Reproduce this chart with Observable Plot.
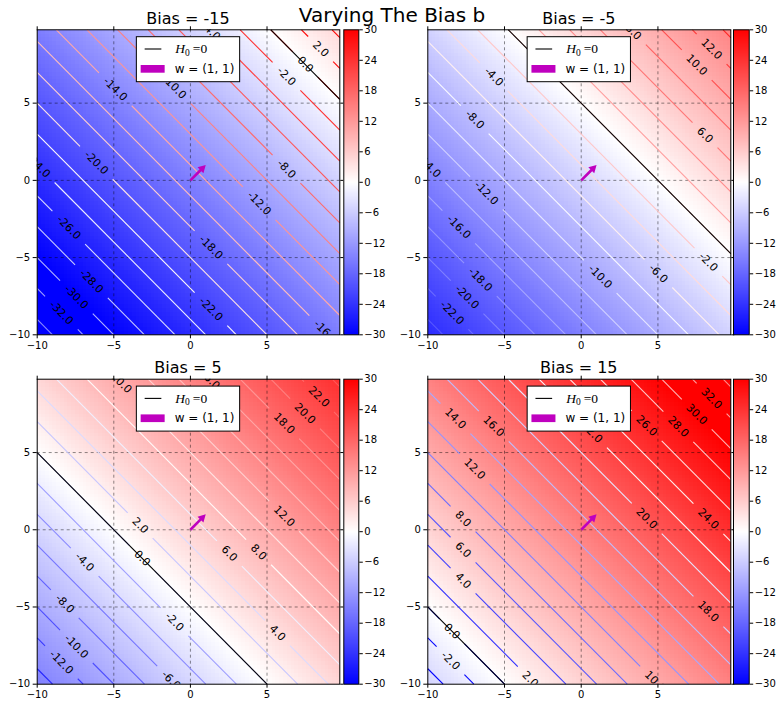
<!DOCTYPE html>
<html><head><meta charset="utf-8">
<script src="https://cdn.jsdelivr.net/npm/d3@7"></script>
<script src="https://cdn.jsdelivr.net/npm/@observablehq/plot@0.6"></script>
<style>
html,body{margin:0;padding:0;background:#fff;}
#root{position:relative;width:784px;height:709px;overflow:hidden;font-family:"DejaVu Sans",sans-serif;}
#root > svg{position:absolute;}
</style></head><body><div id="root"></div>
<script>
// ---------- data ----------
const suptitle = "Varying The Bias b";
const biases = [-15, -5, 5, 15];
const weight = [1, 1];
const gridMin = -10, gridMax = 9.75;      // np.arange(-10, 10, 0.25)
const gridCount = 80;
const axisTicks = [-10, -5, 0, 5];
const gridTicks = [-5, 0, 5];
const colorLimits = [-30, 30];
const colorbarTicks = [-30, -24, -18, -12, -6, 0, 6, 12, 18, 24, 30];
const contourStep = 2;
const legendLineLabel = "H";   // H_0 = 0
// contour label placements (level, x position along the line)
const labelLevelsA = [2, 0, -2, -8, -12, -16, -18, -22, -14, -10, -20, -24, -26, -28, -30, -32, -4];
const labelXA      = [8.5, 7.5, 6.27, 6.27, 4.49, 8.83, 1.34, 1.34, -4.9, -1.04, -6.14, -9.93, -7.94, -6.46, -7.44, -8.42, 1.34];
const labelLevelsB = [12, 10, 6, -2, -6, -10, -4, -8, -14, -12, -16, -18, -20, -22, 8];
const labelXB      = [8.5, 7.53, 8.07, 8.29, 5.03, 1.24, -5.7, -6.94, -9.93, -6.18, -7.98, -6.57, -7.44, -8.42, 3.4];
const labelLevelsC = [22, 20, 18, 12, 8, 6, 4, 2, 0, -2, -4, -8, -10, -12, -6, 10, 16];
const labelXC      = [8.39, 7.48, 6.12, 6.12, 4.45, 2.54, 5.68, -3.28, -3.15, -1.04, -6.9, -8.2, -7.44, -8.42, -1.26, -4.51, 1.24];
const labelLevelsD = [32, 30, 28, 26, 24, 20, 18, 14, 16, 12, 8, 6, 4, 0, -2, 2, 10, 22];
const labelXD      = [8.5, 7.53, 6.33, 4.27, 8.29, 4.27, 8.29, -8.2, -5.7, -6.94, -7.7, -7.7, -7.7, -8.42, -8.52, -3.32, 4.82, 0.7];
const labelLevels = [labelLevelsA, labelLevelsB, labelLevelsC, labelLevelsD];
const labelXs = [labelXA, labelXB, labelXC, labelXD];

// ---------- layout ----------
const layout = [
  {L: 36.7,  R: 339.3, T: 29.3,  B: 334.3, cbL: 343.3, cbR: 358.3},
  {L: 427.3, R: 730.3, T: 29.3,  B: 334.3, cbL: 733.0, cbR: 748.7},
  {L: 36.7,  R: 339.3, T: 378.7, B: 683.7, cbL: 343.3, cbR: 358.3},
  {L: 427.3, R: 730.3, T: 378.7, B: 683.7, cbL: 733.0, cbR: 748.7}
];
const magenta = "#bf00bf";
const fmt = d3.format("d");
const clamp01 = t => Math.max(0, Math.min(1, t));
function bwr(t) {
  t = clamp01(t);
  let r, g, b;
  if (t < 0.5) { r = g = 2 * t; b = 1; } else { r = 1; g = b = 2 * (1 - t); }
  return `rgb(${Math.round(r*255)},${Math.round(g*255)},${Math.round(b*255)})`;
}
function lineColor(level, b) {
  return bwr(0.5 + (level - 1.5 * b) / 50);
}
function labelWidth(str, fs) {
  let w = 0;
  for (const c of str) w += c === "." ? 0.318 : c === "-" ? 0.361 : 0.636;
  return w * fs;
}
const labelFont = 11;
const root = document.getElementById("root");

biases.forEach((b, i) => {
  const g = layout[i];
  const kx = (g.R - g.L) / (gridMax - gridMin), ky = (g.B - g.T) / (gridMax - gridMin);
  const diag = Math.hypot(kx, ky);
  const f = (x, y) => weight[0] * x + weight[1] * y + b;
  const labels = labelLevels[i].map((lv, j) => ({level: lv, x: labelXs[i][j], y: (lv - b - weight[0]*labelXs[i][j]) / weight[1], text: lv.toFixed(1)}));
  // contour levels
  const lo = 2 * gridMin + b, hi = 2 * gridMax + b;
  const levels = d3.range(Math.ceil(lo / contourStep) * contourStep, hi, contourStep).filter(l => l > lo && l < hi);
  const lineMarks = levels.map(lv => {
    const s = lv - b;
    const xa = Math.max(gridMin, s - gridMax), xb = Math.min(gridMax, s - gridMin);
    let intervals = [[xa, xb]];
    labels.filter(d => d.level === lv).forEach(d => {
      const hg = (labelWidth(d.text, labelFont) + 18) / 2 / diag;
      const next = [];
      intervals.forEach(([a, c]) => {
        if (d.x + hg <= a || d.x - hg >= c) { next.push([a, c]); return; }
        if (d.x - hg > a) next.push([a, d.x - hg]);
        if (d.x + hg < c) next.push([d.x + hg, c]);
      });
      intervals = next;
    });
    const segs = intervals.map(([a, c]) => ({x1: a, y1: s - a, x2: c, y2: s - c}));
    return Plot.link(segs, {x1: "x1", y1: "y1", x2: "x2", y2: "y2", stroke: lineColor(lv, b), strokeWidth: 1.1});
  });
  const s0 = -b;
  const zeroLine = [{x1: Math.max(gridMin, s0 - gridMax), x2: Math.min(gridMax, s0 - gridMin)}];
  // arrow geometry in pixels for w
  const arrowLen = Math.hypot(weight[0] * kx, weight[1] * ky);
  const arrowRot = Math.atan2(weight[0] * kx, weight[1] * ky) * 180 / Math.PI;
  const arrowShape = {
    draw(context, l) {
      const hl = 7.5, hw = 4.2, sw = 1.3;
      context.moveTo(-sw, 0);
      context.lineTo(-sw, -(l - hl));
      context.lineTo(-hw, -(l - hl));
      context.lineTo(0, -l);
      context.lineTo(hw, -(l - hl));
      context.lineTo(sw, -(l - hl));
      context.lineTo(sw, 0);
      context.closePath();
    }
  };
  const sl = Math.floor(g.L) - 36, st = Math.floor(g.T) - 29;
  const width = Math.ceil(g.R) + 6 - sl, height = Math.ceil(g.B) + 24 - st;
  const chart = Plot.plot({
    width, height,
    marginLeft: g.L - sl, marginRight: width - (g.R - sl),
    marginTop: g.T - st, marginBottom: height - (g.B - st),
    x: {domain: [gridMin, gridMax]},
    y: {domain: [gridMin, gridMax]},
    color: {type: "linear", domain: colorLimits, interpolate: bwr},
    style: {fontFamily: "DejaVu Sans", fontSize: "10px", background: "transparent", overflow: "visible", color: "black"},
    marks: [
      Plot.raster({x1: gridMin, x2: gridMax, y1: gridMin, y2: gridMax, width: gridCount, height: gridCount,
                   fill: (x, y) => f(x, y), imageRendering: "pixelated"}),
      Plot.ruleX(gridTicks, {stroke: "black", strokeOpacity: 0.45, strokeDasharray: "3,3"}),
      Plot.ruleY(gridTicks, {stroke: "black", strokeOpacity: 0.45, strokeDasharray: "3,3"}),
      ...lineMarks,
      Plot.link(zeroLine, {x1: "x1", y1: d => s0 - d.x1, x2: "x2", y2: d => s0 - d.x2, stroke: "black", strokeWidth: 1.1}),
      Plot.text(labels, {x: "x", y: "y", text: "text", rotate: 45, fontSize: labelFont, fill: "black", clip: true}),
      Plot.vector([weight], {x: () => 0, y: () => 0, anchor: "start", length: arrowLen, rotate: arrowRot,
                             shape: arrowShape, fill: magenta, stroke: "none"}),
      Plot.frame({stroke: "black"}),
      Plot.axisX({ticks: axisTicks, tickSize: 4, tickPadding: 3, tickFormat: fmt, label: null}),
      Plot.axisX({anchor: "top", ticks: axisTicks, tickSize: 4, tickFormat: () => "", label: null}),
      Plot.axisY({anchor: "left", ticks: axisTicks, tickSize: 4, tickPadding: 3, tickFormat: fmt, label: null}),
      Plot.axisY({anchor: "right", ticks: axisTicks, tickSize: 3, tickFormat: () => "", label: null})
    ]
  });
  chart.style.left = sl + "px"; chart.style.top = st + "px";
  root.appendChild(chart);

  // colorbar
  const cl = Math.floor(g.cbL) - 2, ct = Math.floor(g.T) - 6;
  const cw = Math.ceil(g.cbR) + 32 - cl, ch = Math.ceil(g.B) + 6 - ct;
  const cb = Plot.plot({
    width: cw, height: ch,
    marginLeft: g.cbL - cl, marginRight: cw - (g.cbR - cl),
    marginTop: g.T - ct, marginBottom: ch - (g.B - ct),
    x: {domain: [0, 1], axis: null},
    y: {domain: colorLimits},
    color: {type: "linear", domain: colorLimits, interpolate: bwr},
    style: {fontFamily: "DejaVu Sans", fontSize: "10px", background: "transparent", overflow: "visible", color: "black"},
    marks: [
      Plot.raster({x1: 0, x2: 1, y1: colorLimits[0], y2: colorLimits[1], width: 1, height: 300, fill: (x, y) => y}),
      Plot.frame({stroke: "black"}),
      Plot.axisY({anchor: "right", ticks: colorbarTicks, tickSize: 3.5, tickPadding: 2, tickFormat: fmt, label: null})
    ]
  });
  cb.style.left = cl + "px"; cb.style.top = ct + "px";
  root.appendChild(cb);
});

// ---------- titles and legends ----------
const svg = d3.create("svg").attr("width", 784).attr("height", 709)
  .style("left", "0px").style("top", "0px").style("pointer-events", "none")
  .attr("font-family", "DejaVu Sans");
svg.append("text").attr("x", 392).attr("y", 21.5).attr("text-anchor", "middle")
  .attr("font-size", 20).text(suptitle);
biases.forEach((b, i) => {
  const g = layout[i];
  const cx = (g.L + g.R) / 2;
  svg.append("text").attr("x", cx).attr("y", g.T - 5.3).attr("text-anchor", "middle")
    .attr("font-size", 16).text(`Bias = ${b}`);
  const bx = cx - 51.65, by = g.T + 7.4;
  const lg = svg.append("g");
  lg.append("rect").attr("x", bx).attr("y", by).attr("width", 103.3).attr("height", 45)
    .attr("fill", "white").attr("stroke", "black").attr("stroke-width", 1);
  lg.append("line").attr("x1", bx + 8.3).attr("x2", bx + 25).attr("y1", by + 12.3).attr("y2", by + 12.3)
    .attr("stroke", "black").attr("stroke-width", 1.1);
  const t = lg.append("text").attr("x", bx + 39).attr("y", by + 16.5)
    .attr("font-family", "Liberation Serif").attr("font-size", 13.5);
  t.append("tspan").attr("font-style", "italic").text(legendLineLabel);
  t.append("tspan").attr("font-size", 9.5).attr("dy", 2.5).text("0");
  t.append("tspan").attr("dy", -2.5).attr("dx", 3).text("=0");
  lg.append("rect").attr("x", bx + 4.3).attr("y", by + 28.3).attr("width", 24).attr("height", 7.7).attr("fill", magenta);
  lg.append("text").attr("x", bx + 38.3).attr("y", by + 36).attr("font-size", 12)
    .text(`w = (${weight.join(", ")})`);
});
root.appendChild(svg.node());
</script>
</body></html>
